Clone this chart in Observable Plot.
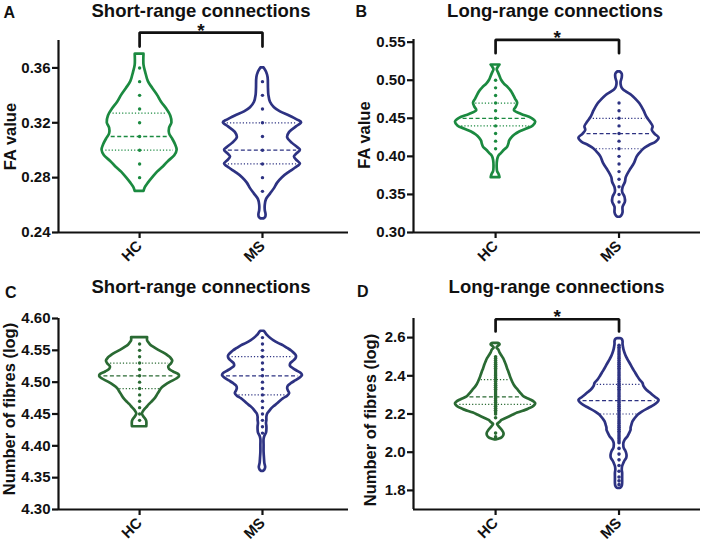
<!DOCTYPE html>
<html><head><meta charset="utf-8">
<script src="https://cdn.jsdelivr.net/npm/d3@7"></script>
<script src="https://cdn.jsdelivr.net/npm/@observablehq/plot@0.6"></script>
<style>
body{margin:0;background:#fff;}
#wrap{position:relative;width:704px;height:544px;font-family:"Liberation Sans",Arial,sans-serif;color:#111;}
.panel{position:absolute;width:352px;height:272px;}
.panel svg{position:absolute;left:0;top:0;overflow:visible;}
.lt{position:absolute;font-weight:bold;font-size:16px;line-height:16px;}
.tt{position:absolute;font-weight:bold;font-size:18.5px;line-height:18.5px;text-align:center;white-space:nowrap;width:300px;}
</style></head><body><div id="wrap"></div><script>
// ---------- data ----------
const groups = ["HC", "MS"];
const panelLetters = ["A", "B", "C", "D"];
const panelTitles = ["Short-range connections", "Long-range connections", "Short-range connections", "Long-range connections"];
const yLabels = ["FA value", "FA value", "Number of fibres (log)", "Number of fibres (log)"];
const yTicksA = [0.24, 0.28, 0.32, 0.36];
const yTicksB = [0.30, 0.35, 0.40, 0.45, 0.50, 0.55];
const yTicksC = [4.30, 4.35, 4.40, 4.45, 4.50, 4.55, 4.60];
const yTicksD = [1.8, 2.0, 2.2, 2.4, 2.6];
const significant = [true, true, false, true];

// violin profiles: [value, relative density (1 = widest)]
const aHC = [[0.370,.11],[0.362,.11],[0.357,.15],[0.350,.22],[0.345,.33],[0.340,.45],[0.335,.55],[0.330,.68],[0.325,.78],[0.320,.81],[0.316,.75],[0.312,.75],[0.308,.83],[0.304,.90],[0.300,.94],[0.296,.88],[0.292,.73],[0.288,.60],[0.284,.45],[0.280,.33],[0.276,.22],[0.273,.15],[0.270,.11]];
const aMS = [[0.360,.04],[0.357,.10],[0.353,.14],[0.345,.15],[0.340,.16],[0.335,.20],[0.331,.30],[0.328,.45],[0.325,.68],[0.322,.88],[0.320,.98],[0.317,.85],[0.313,.68],[0.309,.63],[0.305,.75],[0.302,.88],[0.300,.95],[0.297,.85],[0.295,.80],[0.292,.88],[0.290,.95],[0.287,.83],[0.284,.68],[0.280,.50],[0.276,.38],[0.272,.30],[0.268,.20],[0.264,.10],[0.260,.07],[0.256,.07],[0.253,.09],[0.251,.08],[0.250,.04]];
const bHC = [[0.520,.11],[0.517,.07],[0.514,.04],[0.510,.07],[0.505,.11],[0.500,.15],[0.495,.22],[0.490,.32],[0.485,.40],[0.480,.45],[0.475,.50],[0.470,.55],[0.465,.52],[0.460,.47],[0.455,.65],[0.450,.90],[0.445,1.0],[0.440,.94],[0.436,.78],[0.432,.60],[0.428,.48],[0.424,.40],[0.420,.35],[0.416,.33],[0.412,.30],[0.408,.22],[0.404,.15],[0.400,.08],[0.395,.05],[0.385,.04],[0.380,.05],[0.376,.09],[0.372,.11]];
const bMS = [[0.511,.03],[0.508,.08],[0.503,.08],[0.497,.05],[0.492,.06],[0.488,.10],[0.484,.20],[0.480,.32],[0.475,.42],[0.469,.52],[0.460,.62],[0.451,.70],[0.445,.78],[0.439,.85],[0.434,.83],[0.429,.90],[0.424,1.0],[0.419,.93],[0.414,.75],[0.410,.63],[0.404,.52],[0.399,.45],[0.390,.38],[0.381,.27],[0.372,.18],[0.366,.16],[0.359,.10],[0.353,.09],[0.346,.15],[0.340,.16],[0.333,.10],[0.326,.10],[0.322,.07],[0.320,.03]];
const cHC = [[4.570,.20],[4.565,.20],[4.562,.23],[4.558,.28],[4.555,.35],[4.550,.48],[4.546,.60],[4.542,.70],[4.538,.78],[4.533,.83],[4.529,.80],[4.524,.73],[4.520,.75],[4.516,.85],[4.512,.98],[4.509,1.0],[4.505,.93],[4.500,.78],[4.495,.65],[4.490,.55],[4.485,.50],[4.480,.45],[4.475,.40],[4.470,.33],[4.465,.25],[4.460,.18],[4.455,.11],[4.450,.07],[4.446,.10],[4.442,.15],[4.438,.18],[4.430,.18]];
const cMS = [[4.580,.04],[4.577,.08],[4.573,.13],[4.569,.20],[4.565,.29],[4.561,.40],[4.557,.53],[4.553,.63],[4.549,.73],[4.545,.80],[4.541,.85],[4.537,.84],[4.533,.78],[4.529,.71],[4.525,.70],[4.521,.78],[4.517,.88],[4.513,.98],[4.510,1.0],[4.506,.93],[4.502,.83],[4.498,.73],[4.494,.65],[4.490,.63],[4.486,.65],[4.482,.68],[4.478,.63],[4.474,.53],[4.470,.45],[4.466,.38],[4.462,.30],[4.458,.23],[4.454,.18],[4.450,.13],[4.445,.11],[4.440,.11],[4.435,.10],[4.430,.11],[4.425,.11],[4.420,.10],[4.415,.06],[4.410,.04],[4.400,.04],[4.390,.04],[4.380,.05],[4.372,.06],[4.366,.08],[4.362,.06],[4.360,.03]];
const dHC = [[2.570,.05],[2.567,.10],[2.562,.11],[2.556,.08],[2.548,.04],[2.543,.04],[2.535,.08],[2.520,.11],[2.506,.15],[2.490,.20],[2.471,.24],[2.455,.27],[2.436,.30],[2.420,.33],[2.402,.36],[2.384,.39],[2.365,.43],[2.349,.47],[2.335,.52],[2.323,.57],[2.305,.64],[2.288,.72],[2.275,.86],[2.262,.97],[2.254,1.0],[2.245,.98],[2.236,.93],[2.225,.82],[2.219,.75],[2.205,.55],[2.193,.43],[2.175,.25],[2.165,.15],[2.158,.12],[2.150,.07],[2.145,.05],[2.138,.07],[2.130,.10],[2.123,.13],[2.110,.18],[2.097,.21],[2.085,.20],[2.075,.16],[2.068,.08],[2.065,.03]];
const dMS = [[2.595,.03],[2.590,.08],[2.580,.10],[2.565,.10],[2.550,.11],[2.530,.13],[2.506,.17],[2.485,.22],[2.463,.28],[2.440,.34],[2.419,.40],[2.398,.46],[2.376,.53],[2.365,.58],[2.359,.60],[2.345,.62],[2.323,.70],[2.310,.78],[2.297,.85],[2.284,.93],[2.271,1.0],[2.258,.96],[2.245,.88],[2.230,.75],[2.210,.58],[2.195,.48],[2.175,.40],[2.160,.35],[2.141,.32],[2.125,.30],[2.115,.30],[2.100,.27],[2.080,.22],[2.062,.15],[2.045,.12],[2.030,.12],[2.019,.13],[2.005,.17],[1.993,.19],[1.980,.20],[1.967,.19],[1.955,.15],[1.941,.12],[1.925,.09],[1.906,.08],[1.890,.09],[1.871,.09],[1.855,.09],[1.837,.09],[1.822,.08],[1.813,.05],[1.810,.02]];

// quartiles [Q1, median, Q3]
const aHCq = [0.300, 0.310, 0.327];
const aMSq = [0.290, 0.300, 0.320];
const bHCq = [0.440, 0.450, 0.470];
const bMSq = [0.410, 0.430, 0.450];
const cHCq = [4.49, 4.51, 4.53];
const cMSq = [4.48, 4.51, 4.54];
const dHCq = [2.25, 2.29, 2.38];
const dMSq = [2.20, 2.27, 2.355];

// individual values
const aHCdots = [0.36,0.35,0.34,0.33,0.32,0.31,0.30,0.29,0.28];
const aMSdots = [0.35,0.34,0.33,0.32,0.31,0.30,0.29,0.28,0.27];
const bHCdots = [0.50,0.49,0.48,0.47,0.46,0.45,0.44,0.43,0.42,0.41];
const bMSdots = [0.47,0.46,0.45,0.44,0.43,0.42,0.41,0.40,0.39,0.38,0.37,0.36,0.35,0.34];
const cHCdots = [4.56,4.55,4.54,4.53,4.52,4.51,4.50,4.49,4.48,4.47,4.46,4.45,4.44];
const cMSdots = [4.57,4.56,4.55,4.54,4.53,4.52,4.51,4.50,4.49,4.48,4.47,4.46,4.45,4.44,4.43,4.42];
const dHCdots = [2.50,2.49,2.48,2.47,2.46,2.45,2.44,2.43,2.42,2.41,2.40,2.39,2.38,2.37,2.36,2.35,2.34,2.33,2.32,2.31,2.30,2.29,2.28,2.27,2.26,2.25,2.24,2.23,2.22,2.21,2.20,2.18,2.10,2.08];
const dMSdots = [2.56,2.55,2.54,2.53,2.52,2.51,2.50,2.49,2.48,2.47,2.46,2.45,2.44,2.43,2.42,2.41,2.40,2.39,2.38,2.37,2.36,2.35,2.34,2.33,2.32,2.31,2.30,2.29,2.28,2.27,2.26,2.25,2.24,2.23,2.22,2.21,2.20,2.19,2.18,2.17,2.16,2.15,2.14,2.13,2.12,2.11,2.10,2.09,2.08,2.07,2.06,2.05,2.02,1.99,1.96,1.93,1.90,1.87,1.85,1.83];

// significance bracket levels [leg bottom, bar top]
const bracketA = [0.3756, 0.3858];
const bracketB = [0.5355, 0.5531];
const bracketD = [2.632, 2.696];

// ---------- styling / layout ----------
const greenA = "#1b8a40", greenC = "#2a6a33", navy = "#2d3282";
const font = "'Liberation Sans', Arial, sans-serif";

function interp(profile, v) {
  for (let i = 0; i < profile.length - 1; i++) {
    const [v0, w0] = profile[i], [v1, w1] = profile[i + 1];
    if ((v <= v0 && v >= v1)) {
      const t = v0 === v1 ? 0 : (v - v0) / (v1 - v0);
      return w0 + t * (w1 - w0);
    }
  }
  return 0;
}

const panels = [
  {left: 0, top: 0, mL: 58, mT: 40, mB: 40, xDomain: [0.34, 2.70], yDomain: [0.24, 0.38], yTicks: yTicksA, fmt: d3.format(".2f"),
   violins: [{p: aHC, q: aHCq, dots: aHCdots, color: greenA}, {p: aMS, q: aMSq, dots: aMSdots, color: navy}], bracket: bracketA,
   ylX: 10, ylDy: 0, letter: [3.5, 4.8], title: [201, 1.5], dotR: 1.7},
  {left: 352, top: 0, mL: 61, mT: 39, mB: 40, xDomain: [0.335, 2.66], yDomain: [0.30, 0.5535], yTicks: yTicksB, fmt: d3.format(".2f"),
   violins: [{p: bHC, q: bHCq, dots: bHCdots, color: greenA}, {p: bMS, q: bMSq, dots: bMSdots, color: navy}], bracket: bracketB,
   ylX: 12, ylDy: -1, letter: [3.5, 3.5], title: [203, 1.5], dotR: 1.7},
  {left: 0, top: 272, mL: 58, mT: 46, mB: 35, xDomain: [0.34, 2.70], yDomain: [4.30, 4.60], yTicks: yTicksC, fmt: d3.format(".2f"),
   violins: [{p: cHC, q: cHCq, dots: cHCdots, color: greenC}, {p: cMS, q: cMSq, dots: cMSdots, color: navy}], bracket: null,
   ylX: 9.5, ylDy: -5, letter: [5, 12.5], title: [201, 5.5], dotR: 1.7},
  {left: 352, top: 272, mL: 61, mT: 46, mB: 35, xDomain: [0.335, 2.66], yDomain: [1.70, 2.70], yTicks: yTicksD, fmt: d3.format(".1f"),
   violins: [{p: dHC, q: dHCq, dots: dHCdots, color: greenC}, {p: dMS, q: dMSq, dots: dMSdots, color: navy}], bracket: bracketD,
   ylX: 18, ylDy: 6, letter: [5, 11.5], title: [204.5, 5.5], dotR: 1.8}
];
panels.forEach((p, i) => { p.bracket = significant[i] ? p.bracket : null; });

function makePanel(p, idx) {
  const W = 0.325;
  const marks = [];
  p.violins.forEach((vi, i) => {
    const c = i + 1;
    marks.push(Plot.areaX(vi.p, {y: d => d[0], x1: d => c - d[1] * W, x2: d => c + d[1] * W,
      fill: "white", stroke: vi.color, strokeWidth: 2.7, strokeLinejoin: "round", curve: "catmull-rom"}));
    const [q1, med, q3] = vi.q;
    marks.push(Plot.ruleY([q1, q3], {y: d => d, x1: d => c - interp(vi.p, d) * W * 0.9, x2: d => c + interp(vi.p, d) * W * 0.9,
      stroke: vi.color, strokeWidth: 1.2, strokeDasharray: "1.2,2"}));
    marks.push(Plot.ruleY([med], {y: d => d, x1: d => c - interp(vi.p, d) * W * 0.9, x2: d => c + interp(vi.p, d) * W * 0.9,
      stroke: vi.color, strokeWidth: 1.3, strokeDasharray: "4,2.5"}));
    marks.push(Plot.dot(vi.dots, {x: d => c, y: d => d, r: p.dotR, fill: vi.color, stroke: null}));
  });
  marks.push(Plot.ruleX([p.xDomain[0]], {stroke: "#111", strokeWidth: 2.2}));
  marks.push(Plot.ruleY([p.yDomain[0]], {stroke: "#111", strokeWidth: 2.2}));
  marks.push(Plot.axisY(p.yTicks, {tickSize: 6, tickPadding: 2, tickFormat: p.fmt, fontSize: 15, fontWeight: "bold",
    strokeWidth: 2.2, stroke: "#111", fill: "#111", label: null}));
  marks.push(Plot.axisX([1, 2], {tickSize: 6, tickPadding: 5, tickRotate: -45, tickFormat: d => groups[d - 1], fontSize: 15,
    fontWeight: "bold", strokeWidth: 2.2, stroke: "#111", fill: "#111", label: null}));
  marks.push(Plot.text([yLabels[idx]], {frameAnchor: "left", textAnchor: "middle", lineAnchor: "middle", rotate: -90,
    dx: p.ylX - p.mL, dy: p.ylDy, fontSize: 16.5, fontWeight: "bold", fill: "#111"}));
  if (p.bracket) {
    const [b0, b1] = p.bracket;
    marks.push(Plot.line([[1, b0], [1, b1], [2, b1], [2, b0]], {x: d => d[0], y: d => d[1], stroke: "#111",
      strokeWidth: 2.7, strokeLinejoin: "miter"}));
    marks.push(Plot.text(["*"], {x: d => 1.5, y: d => b1, dy: -2, fontSize: 19, fontWeight: "bold", fill: "#111"}));
  }
  return Plot.plot({
    width: 352, height: 272,
    marginLeft: p.mL, marginRight: 4, marginTop: p.mT, marginBottom: p.mB,
    x: {domain: p.xDomain}, y: {domain: p.yDomain},
    style: {fontFamily: font, fontSize: "15px", background: "transparent", color: "#111", overflow: "visible"},
    marks
  });
}

const wrap = document.getElementById("wrap");
panels.forEach((p, i) => {
  const div = document.createElement("div");
  div.className = "panel";
  div.style.left = p.left + "px";
  div.style.top = p.top + "px";
  div.appendChild(makePanel(p, i));
  const lt = document.createElement("div");
  lt.className = "lt";
  lt.textContent = panelLetters[i];
  lt.style.left = p.letter[0] + "px";
  lt.style.top = p.letter[1] + "px";
  div.appendChild(lt);
  const tt = document.createElement("div");
  tt.className = "tt";
  tt.textContent = panelTitles[i];
  tt.style.left = (p.title[0] - 150) + "px";
  tt.style.top = p.title[1] + "px";
  div.appendChild(tt);
  wrap.appendChild(div);
});
</script></body></html>
